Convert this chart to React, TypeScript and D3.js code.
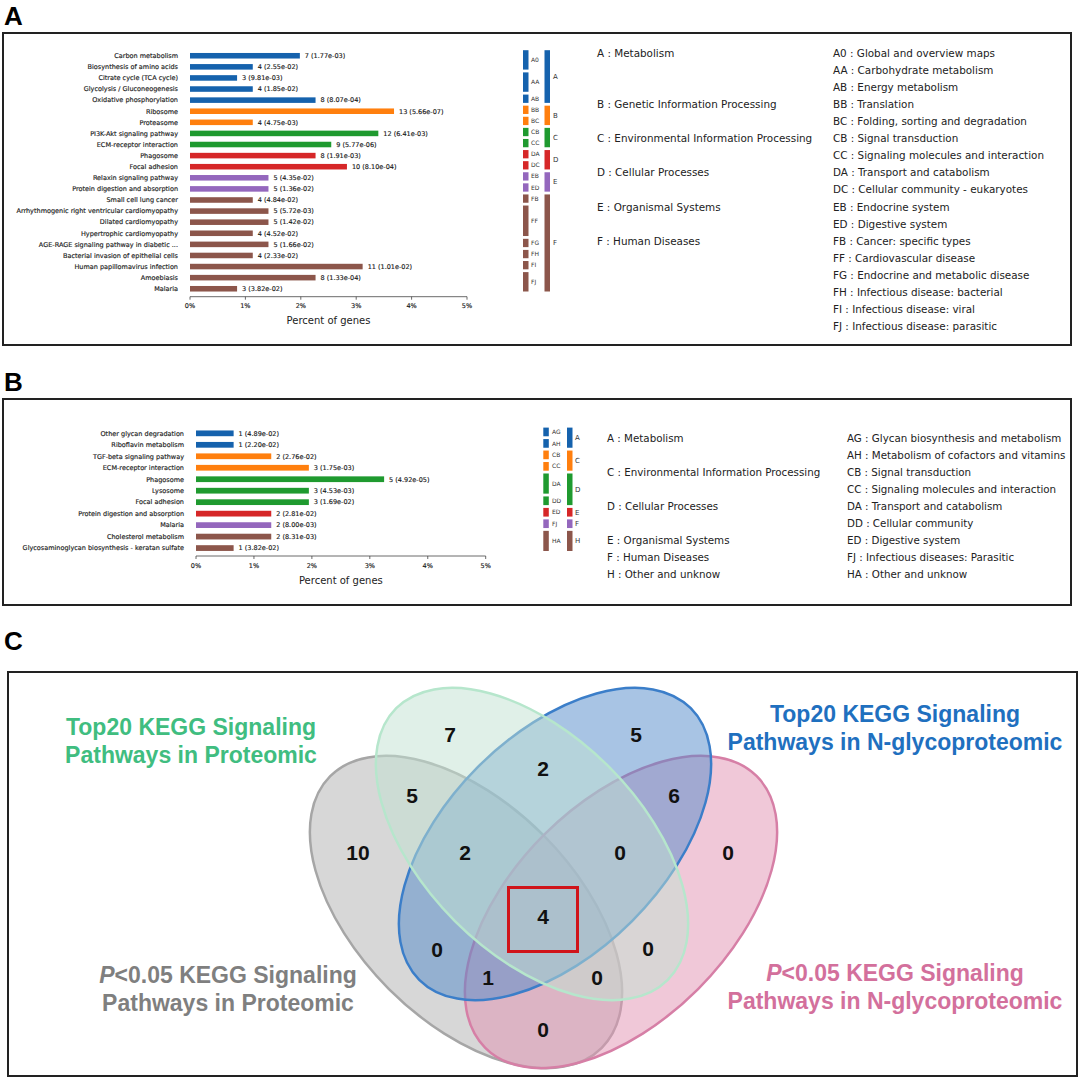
import React from "react";
import * as d3 from "d3";

// ---- Panel A data ----
const pathwaysA = [
  "Carbon metabolism",
  "Biosynthesis of amino acids",
  "Citrate cycle (TCA cycle)",
  "Glycolysis / Gluconeogenesis",
  "Oxidative phosphorylation",
  "Ribosome",
  "Proteasome",
  "PI3K-Akt signaling pathway",
  "ECM-receptor interaction",
  "Phagosome",
  "Focal adhesion",
  "Relaxin signaling pathway",
  "Protein digestion and absorption",
  "Small cell lung cancer",
  "Arrhythmogenic right ventricular cardiomyopathy",
  "Dilated cardiomyopathy",
  "Hypertrophic cardiomyopathy",
  "AGE-RAGE signaling pathway in diabetic ...",
  "Bacterial invasion of epithelial cells",
  "Human papillomavirus infection",
  "Amoebiasis",
  "Malaria",
];
const countsA = [7, 4, 3, 4, 8, 13, 4, 12, 9, 8, 10, 5, 5, 4, 5, 5, 4, 5, 4, 11, 8, 3];
const pvalsA = [
  "1.77e-03", "2.55e-02", "9.81e-03", "1.85e-02", "8.07e-04", "5.66e-07", "4.75e-03",
  "6.41e-03", "5.77e-06", "1.91e-03", "8.10e-04", "4.35e-02", "1.36e-02", "4.84e-02",
  "5.72e-03", "1.42e-02", "4.52e-02", "1.66e-02", "2.33e-02", "1.01e-02", "1.33e-04", "3.82e-02",
];
const subOfA = [
  "A0", "A0", "AA", "AA", "AB", "BB", "BC", "CB", "CC", "DA", "DC",
  "EB", "ED", "FB", "FF", "FF", "FF", "FG", "FH", "FI", "FJ", "FJ",
];
const totalGenesA = 353;
const classesA = ["A", "B", "C", "D", "E", "F"];
const classNamesA = [
  "Metabolism",
  "Genetic Information Processing",
  "Environmental Information Processing",
  "Cellular Processes",
  "Organismal Systems",
  "Human Diseases",
];
const subclassesA = ["A0", "AA", "AB", "BB", "BC", "CB", "CC", "DA", "DC", "EB", "ED", "FB", "FF", "FG", "FH", "FI", "FJ"];
const subclassNamesA = [
  "Global and overview maps",
  "Carbohydrate metabolism",
  "Energy metabolism",
  "Translation",
  "Folding, sorting and degradation",
  "Signal transduction",
  "Signaling molecules and interaction",
  "Transport and catabolism",
  "Cellular community - eukaryotes",
  "Endocrine system",
  "Digestive system",
  "Cancer: specific types",
  "Cardiovascular disease",
  "Endocrine and metabolic disease",
  "Infectious disease: bacterial",
  "Infectious disease: viral",
  "Infectious disease: parasitic",
];

// ---- Panel B data ----
const pathwaysB = [
  "Other glycan degradation",
  "Riboflavin metabolism",
  "TGF-beta signaling pathway",
  "ECM-receptor interaction",
  "Phagosome",
  "Lysosome",
  "Focal adhesion",
  "Protein digestion and absorption",
  "Malaria",
  "Cholesterol metabolism",
  "Glycosaminoglycan biosynthesis - keratan sulfate",
];
const countsB = [1, 1, 2, 3, 5, 3, 3, 2, 2, 2, 1];
const pvalsB = [
  "4.89e-02", "2.20e-02", "2.76e-02", "1.75e-03", "4.92e-05", "4.53e-03",
  "1.69e-02", "2.81e-02", "8.00e-03", "8.31e-03", "3.82e-02",
];
const subOfB = ["AG", "AH", "CB", "CC", "DA", "DA", "DD", "ED", "FJ", "HA", "HA"];
const totalGenesB = 154;
const classesB = ["A", "C", "D", "E", "F", "H"];
const classNamesB = [
  "Metabolism",
  "Environmental Information Processing",
  "Cellular Processes",
  "Organismal Systems",
  "Human Diseases",
  "Other and unknow",
];
const subclassesB = ["AG", "AH", "CB", "CC", "DA", "DD", "ED", "FJ", "HA"];
const subclassNamesB = [
  "Glycan biosynthesis and metabolism",
  "Metabolism of cofactors and vitamins",
  "Signal transduction",
  "Signaling molecules and interaction",
  "Transport and catabolism",
  "Cellular community",
  "Digestive system",
  "Infectious diseases: Parasitic",
  "Other and unknow",
];

const palette = ["#1562ad", "#ff7f0e", "#1f9a2f", "#d62728", "#9467bd", "#8c564b"];

// ---- Panel C data (Venn) ----
const vennTitles = [
  ["P<0.05 KEGG Signaling", "Pathways in Proteomic"],
  ["Top20 KEGG Signaling", "Pathways in Proteomic"],
  ["Top20 KEGG Signaling", "Pathways in N-glycoproteomic"],
  ["P<0.05 KEGG Signaling", "Pathways in N-glycoproteomic"],
];
const vennTitleColors = ["#7f7f7f", "#40bd80", "#1f70bf", "#d3709c"];
const vennFills = ["#b0b0b0", "#c1e1d1", "#5189c9", "#e191b1"];
const vennStrokes = ["#a6a6a6", "#b6e6cc", "#3b7ec9", "#d67fa6"];
// P = P<0.05 proteomic, T = top20 proteomic, N = top20 N-glyco, Q = P<0.05 N-glyco
const vennRegions = ["T", "N", "P", "Q", "PT", "TN", "NQ", "PTN", "TNQ", "PN", "TQ", "PTNQ", "PNQ", "PTQ", "PQ"];
const vennCounts = [7, 5, 10, 0, 5, 2, 6, 2, 0, 0, 0, 4, 1, 0, 0];

// layout
const layoutA = {
  labelX: 178, x0: 190, x1: 467, yTop: 50.2, yBottom: 294.3, axisY: 296.7,
  subBarX: 523, subLabelX: 531, clsBarX: 544.5, clsLabelX: 553,
  textLeftX: 597, textRightX: 833, textY0: 53, textStep: 17.1, textSize: 10.4,
};
const layoutB = {
  labelX: 184, x0: 196, x1: 485.7, yTop: 427.6, yBottom: 553.8, axisY: 556,
  subBarX: 543.3, subLabelX: 552, clsBarX: 567, clsLabelX: 575,
  textLeftX: 607, textRightX: 847, textY0: 438, textStep: 17.1, textSize: 10.3,
};
const ellipseLayout = [
  { cx: 466, cy: 912, rot: 45 },
  { cx: 532, cy: 844, rot: 45 },
  { cx: 555, cy: 844, rot: -45 },
  { cx: 621, cy: 912, rot: -45 },
];
const regionPos: Record<string, [number, number]> = {
  T: [450, 735], N: [636, 735], P: [358, 853], Q: [728, 853],
  PT: [412, 796], TN: [543, 769], NQ: [674, 796],
  PTN: [465, 853], TNQ: [620, 853], PN: [437, 950], TQ: [648, 949],
  PTNQ: [543, 917], PNQ: [488, 978], PTQ: [597, 978], PQ: [543, 1030],
};
const vennTitlePos: [number, number][] = [
  [228, 975], [191, 727], [895, 714], [895, 973],
];

const FONT = "'DejaVu Sans', sans-serif";
const ARIAL = "'Liberation Sans', Arial, sans-serif";

function runs(codes: string[], key: (c: string) => string) {
  const out: { key: string; start: number; end: number }[] = [];
  codes.forEach((c, i) => {
    const k = key(c);
    const last = out[out.length - 1];
    if (last && last.key === k) last.end = i;
    else out.push({ key: k, start: i, end: i });
  });
  return out;
}

function KeggPanel({ pathways, counts, pvals, subOf, total, classes, classNames, subclasses, subclassNames, L }: any) {
  const n = pathways.length;
  const y = d3.scaleBand<number>().domain(d3.range(n)).range([L.yTop, L.yBottom]);
  const step = y.step();
  const x = d3.scaleLinear().domain([0, 5]).range([L.x0, L.x1]);
  const colorOf = (code: string) => palette[classes.indexOf(code[0])];
  const subRuns = runs(subOf, (c) => c);
  const clsRuns = runs(subOf, (c) => c[0]);
  const small = { fontSize: 6.5, fill: "#1a1a1a", stroke: "#1a1a1a", strokeWidth: 0.15 };
  return (
    <g fontFamily={FONT}>
      {pathways.map((p: string, i: number) => {
        const pct = (counts[i] / total) * 100;
        const cy = (y(i) as number) + step / 2;
        return (
          <g key={p}>
            <text x={L.labelX} y={cy} dy="0.35em" textAnchor="end" {...small}>{p}</text>
            <rect x={x(0)} y={cy - step * 0.25} width={x(pct) - x(0)} height={step * 0.5} fill={colorOf(subOf[i])} />
            <text x={x(pct) + 5} y={cy} dy="0.35em" {...small}>{`${counts[i]} (${pvals[i]})`}</text>
          </g>
        );
      })}
      <line x1={x(0)} x2={x(5)} y1={L.axisY} y2={L.axisY} stroke="#444" strokeWidth={0.8} />
      {x.ticks(5).map((t) => (
        <g key={t}>
          <line x1={x(t)} x2={x(t)} y1={L.axisY} y2={L.axisY + 3} stroke="#444" strokeWidth={0.8} />
          <text x={x(t)} y={L.axisY + 9.5} dy="0.35em" textAnchor="middle" {...small}>{`${t}%`}</text>
        </g>
      ))}
      <text x={(x(0) + x(5)) / 2} y={L.axisY + 24} dy="0.35em" textAnchor="middle" fontSize={10} fill="#222">Percent of genes</text>
      {subRuns.map((r) => {
        const top = y(r.start) as number;
        const bot = (y(r.end) as number) + step - 2.8;
        return (
          <g key={r.key}>
            <rect x={L.subBarX} y={top} width={5.5} height={bot - top} fill={colorOf(r.key)} />
            <text x={L.subLabelX} y={(top + bot) / 2} dy="0.35em" fontSize={6} fill="#333">{r.key}</text>
          </g>
        );
      })}
      {clsRuns.map((r) => {
        const top = y(r.start) as number;
        const bot = (y(r.end) as number) + step - 2.8;
        return (
          <g key={r.key}>
            <rect x={L.clsBarX} y={top} width={5.5} height={bot - top} fill={colorOf(r.key)} />
            <text x={L.clsLabelX} y={(top + bot) / 2} dy="0.35em" fontSize={7} fill="#333">{r.key}</text>
          </g>
        );
      })}
      {classes.map((c: string, i: number) => {
        const first = subclasses.findIndex((s: string) => s[0] === c);
        return (
          <text key={c} x={L.textLeftX} y={L.textY0 + first * L.textStep} dy="0.35em" fontSize={L.textSize} fill="#222">
            {`${c} : ${classNames[i]}`}
          </text>
        );
      })}
      {subclasses.map((s: string, i: number) => (
        <text key={s} x={L.textRightX} y={L.textY0 + i * L.textStep} dy="0.35em" fontSize={L.textSize} fill="#222">
          {`${s} : ${subclassNames[i]}`}
        </text>
      ))}
    </g>
  );
}

function VennTitle({ lines, x, y, color }: any) {
  return (
    <text x={x} y={y} textAnchor="middle" fontFamily={ARIAL} fontWeight="bold" fontSize={23} fill={color}>
      {lines.map((ln: string, i: number) => (
        <tspan key={i} x={x} dy={i === 0 ? "0.35em" : 28}>
          {ln.startsWith("P<") ? (
            <>
              <tspan fontStyle="italic">P</tspan>
              {ln.slice(1)}
            </>
          ) : (
            ln
          )}
        </tspan>
      ))}
    </text>
  );
}

function Venn() {
  const a = 192;
  const b = 109;
  // drawing order: gray, pink, blue, green
  const order = [0, 3, 2, 1];
  return (
    <g>
      {order.map((i) => {
        const e = ellipseLayout[i];
        return (
          <ellipse
            key={i}
            cx={0}
            cy={0}
            rx={a}
            ry={b}
            transform={`translate(${e.cx},${e.cy}) rotate(${e.rot})`}
            fill={vennFills[i]}
            fillOpacity={0.5}
            stroke={vennStrokes[i]}
            strokeWidth={2.5}
          />
        );
      })}
      {vennRegions.map((r, i) => (
        <text
          key={r}
          x={regionPos[r][0]}
          y={regionPos[r][1]}
          dy="0.35em"
          textAnchor="middle"
          fontFamily={ARIAL}
          fontWeight="bold"
          fontSize={21}
          fill="#111"
        >
          {vennCounts[i]}
        </text>
      ))}
      <rect x={508.5} y={887.5} width={69} height={64} fill="none" stroke="#d0141a" strokeWidth={3} />
      {vennTitles.map((t, i) => (
        <VennTitle key={i} lines={t} x={vennTitlePos[i][0]} y={vennTitlePos[i][1]} color={vennTitleColors[i]} />
      ))}
    </g>
  );
}

export default function App() {
  return (
    <>
      <style>{`body{margin:0}`}</style>
      <svg width={1080} height={1079} style={{ display: "block", background: "#fff" }}>
        <text x={4} y={25} fontFamily={ARIAL} fontWeight="bold" fontSize={26}>A</text>
        <rect x={3} y={33} width={1068} height={312} fill="none" stroke="#222" strokeWidth={2} />
        <KeggPanel
          pathways={pathwaysA} counts={countsA} pvals={pvalsA} subOf={subOfA} total={totalGenesA}
          classes={classesA} classNames={classNamesA} subclasses={subclassesA} subclassNames={subclassNamesA}
          L={layoutA}
        />
        <text x={4} y={391} fontFamily={ARIAL} fontWeight="bold" fontSize={26}>B</text>
        <rect x={3} y={399} width={1068} height={206} fill="none" stroke="#222" strokeWidth={2} />
        <KeggPanel
          pathways={pathwaysB} counts={countsB} pvals={pvalsB} subOf={subOfB} total={totalGenesB}
          classes={classesB} classNames={classNamesB} subclasses={subclassesB} subclassNames={subclassNamesB}
          L={layoutB}
        />
        <text x={4} y={650} fontFamily={ARIAL} fontWeight="bold" fontSize={26}>C</text>
        <rect x={8} y={672} width={1069} height={404} fill="none" stroke="#222" strokeWidth={2} />
        <Venn />
      </svg>
    </>
  );
}
